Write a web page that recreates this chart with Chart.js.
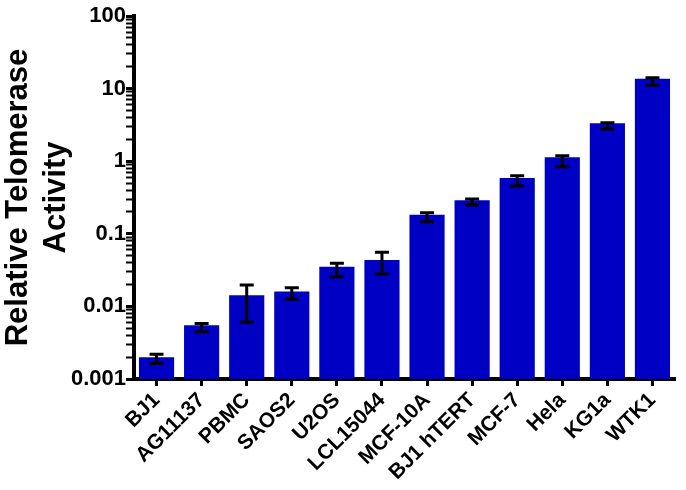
<!DOCTYPE html>
<html>
<head>
<meta charset="utf-8">
<script src="https://cdn.jsdelivr.net/npm/chart.js@4"></script>
<style>
html,body{margin:0;padding:0;background:#fff}
#wrap{width:686px;height:490px}
</style>
</head>
<body>
<div id="wrap"><canvas id="chartTelo"></canvas></div>
<script>
const categories = ['BJ1','AG11137','PBMC','SAOS2','U2OS','LCL15044','MCF-10A','BJ1 hTERT','MCF-7','Hela','KG1a','WTK1']
const activity = [0.002, 0.0055, 0.0142, 0.0161, 0.0352, 0.0436, 0.183, 0.289, 0.587, 1.13, 3.33, 13.7]
const errHigh = [0.0022, 0.0058, 0.0197, 0.0181, 0.0393, 0.0556, 0.195, 0.301, 0.631, 1.19, 3.39, 14.1]
const errLow = [0.00164, 0.00448, 0.00604, 0.0125, 0.0257, 0.0279, 0.147, 0.249, 0.455, 0.84, 2.77, 11.1]
const yTickLabels = ['0.001','0.01','0.1','1','10','100']
const decades = yTickLabels.map(Number)

const FONT = "'Liberation Sans', Arial, sans-serif"

// error bars drawn from errLow/errHigh through the y scale
const errorBarPlugin = {
  id: 'errorBars',
  afterDatasetsDraw(chart) {
    const ctx = chart.ctx
    const y = chart.scales.y
    const meta = chart.getDatasetMeta(0)
    ctx.save()
    ctx.strokeStyle = '#000'
    ctx.lineWidth = 3
    meta.data.forEach((bar, i) => {
      const yt = y.getPixelForValue(errHigh[i])
      const yb = y.getPixelForValue(errLow[i])
      const cap = 7
      ctx.beginPath()
      ctx.moveTo(bar.x, yt); ctx.lineTo(bar.x, yb)
      ctx.moveTo(bar.x - cap, yt); ctx.lineTo(bar.x + cap, yt)
      ctx.moveTo(bar.x - cap, yb); ctx.lineTo(bar.x + cap, yb)
      ctx.stroke()
    })
    ctx.restore()
  }
}

let chartTelo = new Chart(
  document.getElementById('chartTelo'),
  {
    type: 'bar',
    data: {
      labels: categories,
      datasets: [{
        data: activity,
        backgroundColor: '#0000c4',
        borderWidth: 0,
        barPercentage: 0.78,
        categoryPercentage: 1
      }]
    },
    options: {
      animation: false,
      responsive: true,
      maintainAspectRatio: false,
      layout: {padding: {top: 16, right: 11, left: 0, bottom: 0}},
      plugins: {
        legend: {display: false},
        tooltip: {enabled: false}
      },
      scales: {
        x: {
          grid: {display: true, drawOnChartArea: false, offset: false, tickLength: 7, tickWidth: 3, tickColor: '#000'},
          border: {display: true, color: '#000', width: 4},
          ticks: {color: '#000', font: {family: FONT, size: 21, weight: 'bold'}, minRotation: 45, maxRotation: 45, padding: 2, autoSkip: false},
          afterFit: s => { s.height = 111 }
        },
        y: {
          type: 'logarithmic',
          min: 0.001,
          max: 100,
          afterBuildTicks: s => {
            const t = []
            decades.forEach((d, k) => {
              if (k === decades.length - 1) { t.push({value: d}); return }
              for (let m = 1; m < 10; m++) t.push({value: +(d * m).toPrecision(3)})
            })
            s.ticks = t
          },
          grid: {
            display: true, drawOnChartArea: false, tickLength: 8, tickColor: '#000',
            tickWidth: c => (decades.includes(c.tick && c.tick.value) ? 3 : 2)
          },
          border: {display: true, color: '#000', width: 4},
          ticks: {
            color: '#000', padding: 0, autoSkip: false,
            font: {family: FONT, size: 22, weight: 'bold'},
            callback: v => {
              const k = decades.indexOf(v)
              return k >= 0 ? yTickLabels[k] : ''
            }
          },
          title: {
            display: true,
            text: ['Relative Telomerase', 'Activity'],
            color: '#000',
            font: {family: FONT, size: 31, weight: 'bold', lineHeight: 1.22},
            padding: {top: 0, bottom: 0}
          },
          afterFit: s => { s.width = 134 }
        }
      }
    },
    plugins: [errorBarPlugin]
  }
)
</script>
</body>
</html>
